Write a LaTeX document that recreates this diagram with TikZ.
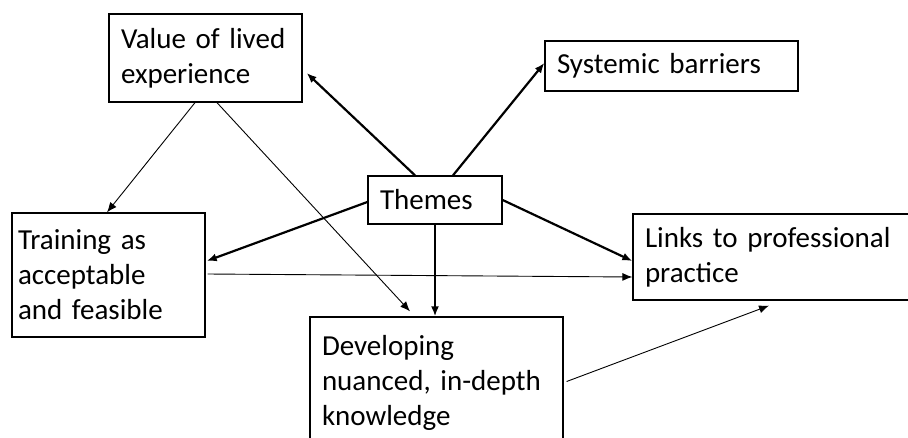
\documentclass[tikz,border=0pt]{standalone}
\usepackage{fontspec}
\setmainfont{Carlito}[WordSpace=0.75]
\usetikzlibrary{arrows.meta}
\begin{document}
\begin{tikzpicture}[x=1pt,y=-1pt,
  box/.style={draw=black,line width=1.3pt,rectangle,align=left,inner xsep=#1,inner ysep=0pt,
    font=\fontsize{29}{35}\selectfont,anchor=center},
  box/.default=12pt,
  thickarr/.style={line width=2.2pt,-{Latex[length=10pt,width=8pt]}},
  thinarr/.style={line width=0.9pt,-{Latex[length=10pt,width=8pt]}}]
\useasboundingbox (0,0) rectangle (908,437);
\node[box, minimum width=193pt, minimum height=88pt, text width=169pt] (value) at (205.5,58) {Value of lived\\experience};
\node[box, minimum width=253pt, minimum height=50pt, text width=229pt] (sys) at (671.5,66) {Systemic barriers};
\node[box, minimum width=134pt, minimum height=48pt, text width=110pt] (themes) at (435,200) {Themes};
\node[box=6pt, minimum width=193pt, minimum height=124pt, text width=181pt] (train) at (108.5,275) {Training as\\acceptable\\and feasible};
\node[box, minimum width=253pt, minimum height=132pt, text width=229pt] (dev) at (436.5,383) {Developing\\nuanced, in-depth\\knowledge};
\node[box, minimum width=287pt, minimum height=86pt, text width=263pt] (links) at (776.5,257) {Links to professional\\practice};
% thick arrows from Themes
\draw[thickarr] ([xshift=-20pt]themes.north) -- ([xshift=4pt,yshift=-15pt]value.east);
\draw[thickarr] ([xshift=18pt]themes.north) -- ([yshift=3pt]sys.west);
\draw[thickarr] ([yshift=-2pt]themes.west) -- ([xshift=1pt,yshift=14pt]train.east);
\draw[thickarr] (themes.south) -- (themes.south |- dev.north);
\draw[thickarr] (themes.east) -- ([yshift=-4pt]links.west);
% thin arrows
\draw[thinarr] ([xshift=-10.5pt]value.south) -- ([xshift=-1.5pt]train.north);
\draw[thinarr] ([xshift=11.5pt]value.south) -- ([xshift=-26.5pt,yshift=5pt]dev.north);
\draw[thinarr] ([xshift=2pt,yshift=1pt]train.east) -- ([yshift=-20pt]links.west);
\draw[thinarr] ([xshift=3pt,yshift=1.5pt]dev.east) -- ([xshift=-7.5pt,yshift=-5pt]links.south);
\end{tikzpicture}
\end{document}
